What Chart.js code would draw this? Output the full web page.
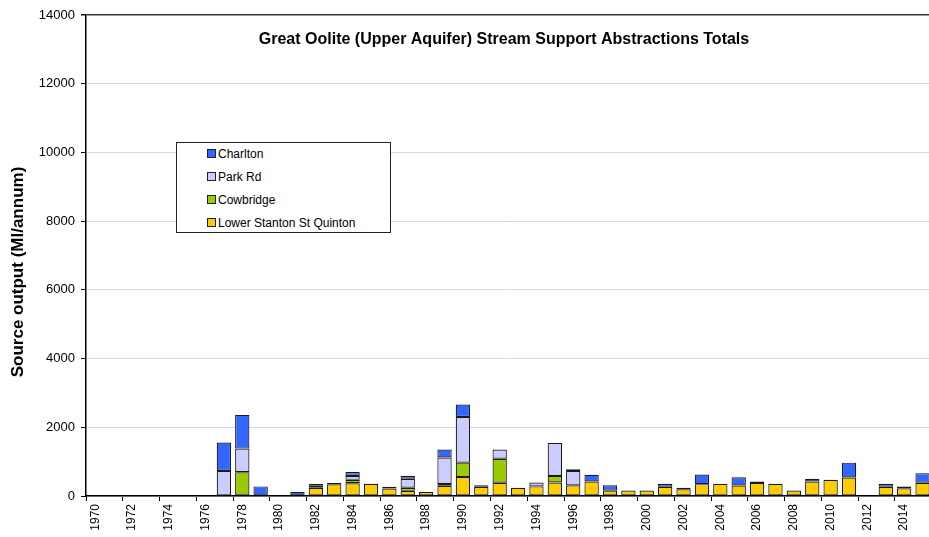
<!DOCTYPE html>
<html>
<head>
<meta charset="utf-8">
<script src="https://cdn.jsdelivr.net/npm/chart.js@4.4.1/dist/chart.umd.min.js"></script>
<style>
    html, body { margin: 0; padding: 0; background: #fff; overflow: hidden; width: 929px; height: 537px; }
    #wrap { position: relative; width: 940px; height: 537px; }
    #legend {
        position: absolute; left: 176px; top: 142px; width: 213px; height: 89px;
        border: 1px solid #222; background: #fff;
        font: 12px "Liberation Sans", Arial, sans-serif; color: #000;
    }
    #legend .item { position: absolute; left: 30px; height: 14px; line-height: 14px; white-space: nowrap; }
    #legend .sw { display: inline-block; width: 7px; height: 7px; border: 1px solid #222; margin-right: 2px; vertical-align: 0px; }
</style>
</head>
<body>
<div id="wrap">
    <canvas id="chart" width="940" height="537"></canvas>
    <div id="legend"></div>
</div>
<script>
    const years = [];
    for (let y = 1970; y <= 2015; y++) years.push(String(y));

    // Ml/annum (null = no bar)
    const lowerStanton = [
        null, null, null, null, null, null, null, null, null, null,
        null, null, 240, 340, 370, 355, 220, 150, 120, 300,
        550, 270, 385, 240, 280, 395, 310, 420, 155, 160,
        160, 270, 195, 345, 355, 305, 375, 355, 160, 420,
        470, 540, 30, 270, 225, 385
    ];
    const cowbridge = [
        null, null, null, null, null, null, null, null, 690, null,
        null, null, null, null, 100, null, null, 90, null, 50,
        420, null, 700, null, null, 190, null, null, null, null,
        null, null, null, null, null, null, null, null, null, null,
        null, null, null, null, null, null
    ];
    const parkRd = [
        null, null, null, null, null, null, null, 730, 690, null,
        null, null, 60, null, 110, null, null, 260, null, 770,
        1330, null, 270, null, 115, 960, 420, null, null, null,
        null, null, null, null, null, null, null, null, null, null,
        null, null, null, null, null, null
    ];
    const charlton = [
        null, null, null, null, null, null, null, 825, 980, 280,
        null, 120, 50, 40, 120, null, 50, 90, null, 230,
        360, 45, null, null, null, null, 50, 200, 160, null,
        null, 85, 45, 280, null, 240, 50, null, null, 80,
        null, 430, null, 85, 55, 280
    ];
    const yTicks = [0, 2000, 4000, 6000, 8000, 10000, 12000, 14000];

    const seriesNames = ["Lower Stanton St Quinton", "Cowbridge", "Park Rd", "Charlton"];
    const seriesColors = ["#ffcc00", "#99cc00", "#ccccff", "#3366ff"];
    const seriesData = [lowerStanton, cowbridge, parkRd, charlton];

    const titleText = "Great Oolite (Upper Aquifer) Stream Support Abstractions Totals";
    const yTitleText = "Source output (Ml/annum)";

    const textPlugin = {
        id: "texts",
        afterDraw(chart) {
            const ctx = chart.ctx;
            ctx.save();
            ctx.fillStyle = "#000";
            ctx.textAlign = "center";
            ctx.textBaseline = "middle";
            ctx.font = "bold 16px 'Liberation Sans', Arial, sans-serif";
            ctx.fillText(titleText, 504, 40);
            ctx.translate(18, 272);
            ctx.rotate(-Math.PI / 2);
            ctx.font = "bold 17px 'Liberation Sans', Arial, sans-serif";
            ctx.fillText(yTitleText, 0, 0);
            ctx.restore();
        }
    };

    new Chart(document.getElementById("chart"), {
        type: "bar",
        data: {
            labels: years,
            datasets: seriesData.map((data, i) => ({
                label: seriesNames[i],
                data,
                backgroundColor: seriesColors[i],
                borderColor: "#1a1a1a",
                borderWidth: 1.2,
                borderSkipped: false,
                barPercentage: 0.78,
                categoryPercentage: 1
            }))
        },
        options: {
            responsive: false,
            animation: false,
            layout: { padding: { top: 15, right: 3, left: 0, bottom: 0 } },
            plugins: {
                legend: { display: false },
                tooltip: { enabled: false }
            },
            scales: {
                x: {
                    stacked: true,
                    offset: true,
                    afterFit: (scale) => { scale.height = 41; },
                    grid: {
                        offset: true,
                        drawOnChartArea: false,
                        tickLength: 5,
                        color: (c) => (c.index % 2 === 0 ? "#000" : "rgba(0,0,0,0)")
                    },
                    border: { color: "#000", width: 1.5 },
                    ticks: {
                        autoSkip: false,
                        minRotation: 90,
                        maxRotation: 90,
                        padding: 3,
                        color: "#000",
                        font: { family: "'Liberation Sans', Arial, sans-serif", size: 12 },
                        callback: (v, i) => (i % 2 === 0 ? years[i] : "")
                    }
                },
                y: {
                    stacked: true,
                    min: yTicks[0],
                    max: yTicks[yTicks.length - 1],
                    afterFit: (scale) => { scale.width = 86; },
                    afterBuildTicks: (scale) => { scale.ticks = yTicks.map((v) => ({ value: v })); },
                    grid: {
                        tickLength: 5,
                        tickColor: "#000",
                        color: (c) => (c.tick && c.tick.value === 14000 ? "#333" : "#d9d9d9"),
                        lineWidth: (c) => (c.tick && c.tick.value === 14000 ? 1.5 : 1)
                    },
                    border: { color: "#000", width: 1.5 },
                    ticks: {
                        padding: 6,
                        color: "#000",
                        font: { family: "'Liberation Sans', Arial, sans-serif", size: 13 },
                        callback: (v) => String(v)
                    }
                }
            }
        },
        plugins: [textPlugin]
    });

    // legend, top entry is the top of the stack
    const legend = document.getElementById("legend");
    const rowTops = [4, 27, 50, 73];
    seriesNames.slice().reverse().forEach((name, i) => {
        const color = seriesColors[seriesColors.length - 1 - i];
        const el = document.createElement("div");
        el.className = "item";
        el.style.top = rowTops[i] + "px";
        el.innerHTML = '<span class="sw" style="background:' + color + '"></span>' + name;
        legend.appendChild(el);
    });
</script>
</body>
</html>
